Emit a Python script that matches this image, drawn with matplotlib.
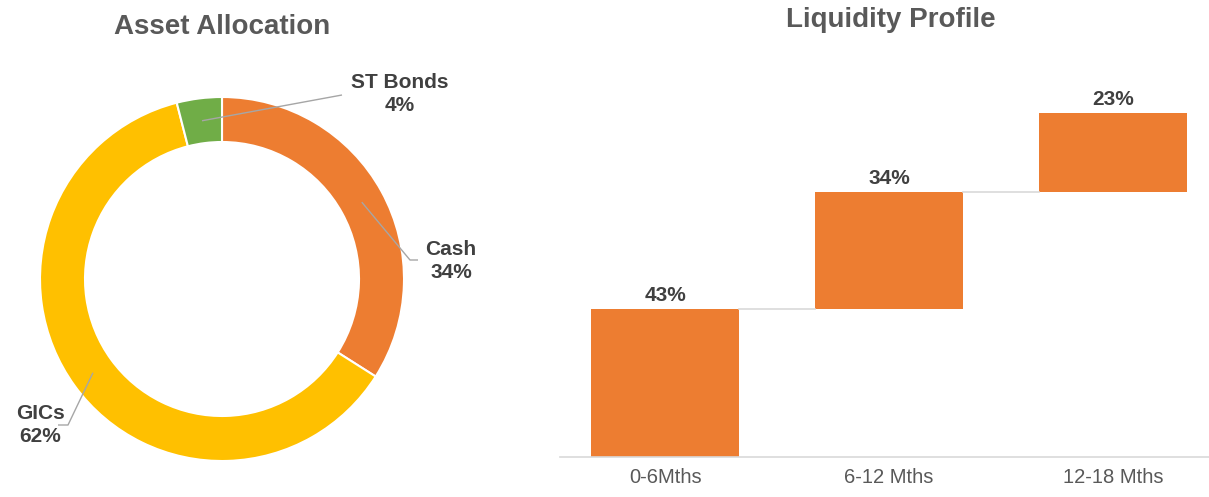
import matplotlib.pyplot as plt
import numpy as np

plt.rcParams["font.family"] = ["Liberation Sans", "DejaVu Sans"]

# asset allocation (donut), clockwise from 12 o'clock
alloc_labels = ["Cash", "GICs", "ST Bonds"]
alloc_values = [34, 62, 4]
alloc_colors = ["#ED7D31", "#FFC000", "#70AD47"]

# liquidity profile (waterfall)
liq_labels = ["0-6Mths", "6-12 Mths", "12-18 Mths"]
liq_values = [43, 34, 23]

W, H = 1209, 497
TEXT = "#404040"
GREY = "#595959"

fig = plt.figure(figsize=(W / 100, H / 100), dpi=100)

# ---- donut ----
R = 182.0  # outer radius in px
cx, cy = 222.0, H - 279.0
ax1 = fig.add_axes([0, 0, 560 / W, 1])
wedges, _ = ax1.pie(alloc_values, colors=alloc_colors, startangle=90,
                    counterclock=False, radius=1.0,
                    wedgeprops=dict(width=45 / R, edgecolor="white", linewidth=1.5))
ax1.set_xlim(-cx / R, (560 - cx) / R)
ax1.set_ylim(-cy / R, (H - cy) / R)
ax1.set_aspect("auto")
ax1.axis("off")


def px(x, y):
    return (x - cx) / R, ((H - y) - cy) / R


# label text position and leader elbow/end (pixel coords)
label_layout = {
    "ST Bonds": dict(text=(400, 94), path=[(342, 95)]),
    "Cash": dict(text=(451, 261), path=[(410, 260), (418, 260)]),
    "GICs": dict(text=(40, 425), path=[(68, 425), (58, 425)]),
}
r_mid = 1.0 - 45 / R / 2
start = 0.0
total = sum(alloc_values)
for lab, val in zip(alloc_labels, alloc_values):
    mid = start + val / 2
    ang = np.deg2rad(90 - mid / total * 360)
    start += val
    pts = [(r_mid * np.cos(ang), r_mid * np.sin(ang))]
    pts += [px(*p) for p in label_layout[lab]["path"]]
    xs, ys = zip(*pts)
    ax1.plot(xs, ys, color="#A6A6A6", lw=1.0, solid_capstyle="butt")
    tx, ty = px(*label_layout[lab]["text"])
    ax1.text(tx, ty, f"{lab}\n{val}%", ha="center", va="center", fontsize=15,
             fontweight="bold", color=TEXT, linespacing=1.3)

fig.text(222 / W, 1 - 27 / H, "Asset Allocation", ha="center", va="center",
         fontsize=20, fontweight="bold", color=GREY)

# ---- waterfall ----
ax2 = fig.add_axes([560 / W, (H - 457) / H, (W - 560) / W, 344 / 0.97 / H])
x = np.arange(len(liq_values))
bottoms = np.concatenate([[0], np.cumsum(liq_values)[:-1]])
ax2.bar(x, liq_values, bottom=bottoms, width=0.66, color="#ED7D31")
for i in range(len(liq_values) - 1):
    top = bottoms[i] + liq_values[i]
    ax2.plot([x[i] + 0.33, x[i + 1] - 0.33], [top, top], color="#D9D9D9", lw=1.2)
for xi, b, v in zip(x, bottoms, liq_values):
    ax2.text(xi, b + v + 1.2, f"{v}%", ha="center", va="bottom", fontsize=15,
             fontweight="bold", color=TEXT)
ax2.set_xlim(-0.47, 2.43)
ax2.set_ylim(0, 100 / 0.97)
ax2.set_xticks(x, liq_labels)
ax2.tick_params(axis="x", length=0, labelsize=14.5, labelcolor=GREY, pad=8)
ax2.set_yticks([])
for s in ["top", "right", "left"]:
    ax2.spines[s].set_visible(False)
ax2.spines["bottom"].set_color("#D9D9D9")
ax2.spines["bottom"].set_linewidth(1.2)

fig.text(891 / W, 1 - 20 / H, "Liquidity Profile", ha="center", va="center",
         fontsize=20, fontweight="bold", color=GREY)

fig.savefig("out.png", dpi=100)
